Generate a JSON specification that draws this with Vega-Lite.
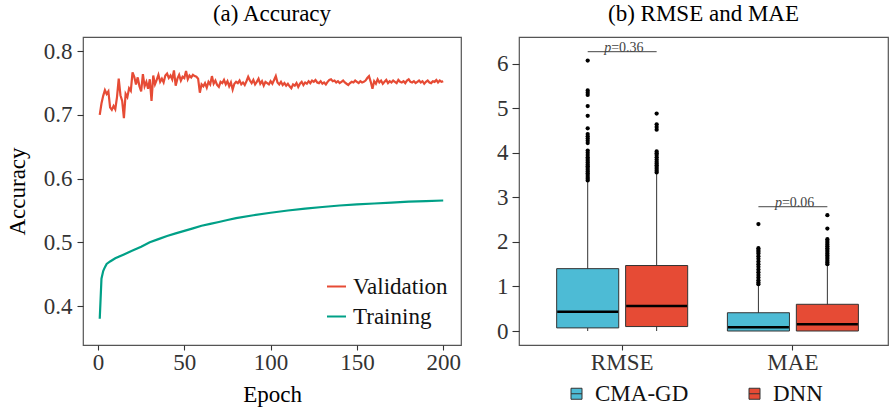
{
  "$schema": "https://vega.github.io/schema/vega-lite/v6.json",
  "padding": {"left": 5, "top": 2, "right": 0, "bottom": 0},
  "background": "white",
  "config": {
    "font": "Liberation Serif",
    "view": {"stroke": "#555555", "strokeWidth": 1.2},
    "axis": {"domain": false, "grid": false, "ticks": true, "tickColor": "#333333", "tickSize": 6, "tickWidth": 1.1,
      "labelFont": "Liberation Serif", "labelFontSize": 23, "labelColor": "#333333",
      "titleFont": "Liberation Serif", "titleFontSize": 23, "titleFontWeight": "normal", "titleColor": "#000000"},
    "legend": {"labelFont": "Liberation Serif", "labelFontSize": 23, "labelColor": "#111111", "padding": 0},
    "title": {"font": "Liberation Serif", "fontSize": 23, "fontWeight": "normal", "color": "#000000", "anchor": "middle", "baseline": "alphabetic", "offset": 11}
  },
  "datasets": {
    "boxes": [
      {"metric": "RMSE", "method": "CMA-GD", "lower": 0.0, "q1": 0.07, "median": 0.43, "q3": 1.40, "upper": 3.35},
      {"metric": "RMSE", "method": "DNN", "lower": 0.0, "q1": 0.10, "median": 0.56, "q3": 1.47, "upper": 3.54},
      {"metric": "MAE", "method": "CMA-GD", "lower": 0.0, "q1": 0.0, "median": 0.085, "q3": 0.41, "upper": 1.03},
      {"metric": "MAE", "method": "DNN", "lower": 0.0, "q1": 0.0, "median": 0.15, "q3": 0.60, "upper": 1.48}
    ],
    "outliers": [
      {"metric": "RMSE", "method": "CMA-GD", "value": 6.07},
      {"metric": "RMSE", "method": "CMA-GD", "value": 5.40},
      {"metric": "RMSE", "method": "CMA-GD", "value": 5.35},
      {"metric": "RMSE", "method": "CMA-GD", "value": 5.30},
      {"metric": "RMSE", "method": "CMA-GD", "value": 5.05},
      {"metric": "RMSE", "method": "CMA-GD", "value": 4.83},
      {"metric": "RMSE", "method": "CMA-GD", "value": 4.55},
      {"metric": "RMSE", "method": "CMA-GD", "value": 4.42},
      {"metric": "RMSE", "method": "CMA-GD", "value": 4.37},
      {"metric": "RMSE", "method": "CMA-GD", "value": 4.32},
      {"metric": "RMSE", "method": "CMA-GD", "value": 4.27},
      {"metric": "RMSE", "method": "CMA-GD", "value": 4.22},
      {"metric": "RMSE", "method": "CMA-GD", "value": 4.05},
      {"metric": "RMSE", "method": "CMA-GD", "value": 4.00},
      {"metric": "RMSE", "method": "CMA-GD", "value": 3.95},
      {"metric": "RMSE", "method": "CMA-GD", "value": 3.90},
      {"metric": "RMSE", "method": "CMA-GD", "value": 3.86},
      {"metric": "RMSE", "method": "CMA-GD", "value": 3.82},
      {"metric": "RMSE", "method": "CMA-GD", "value": 3.78},
      {"metric": "RMSE", "method": "CMA-GD", "value": 3.74},
      {"metric": "RMSE", "method": "CMA-GD", "value": 3.70},
      {"metric": "RMSE", "method": "CMA-GD", "value": 3.66},
      {"metric": "RMSE", "method": "CMA-GD", "value": 3.62},
      {"metric": "RMSE", "method": "CMA-GD", "value": 3.58},
      {"metric": "RMSE", "method": "CMA-GD", "value": 3.54},
      {"metric": "RMSE", "method": "CMA-GD", "value": 3.50},
      {"metric": "RMSE", "method": "CMA-GD", "value": 3.46},
      {"metric": "RMSE", "method": "CMA-GD", "value": 3.42},
      {"metric": "RMSE", "method": "CMA-GD", "value": 3.38},
      {"metric": "RMSE", "method": "DNN", "value": 4.88},
      {"metric": "RMSE", "method": "DNN", "value": 4.64},
      {"metric": "RMSE", "method": "DNN", "value": 4.58},
      {"metric": "RMSE", "method": "DNN", "value": 4.52},
      {"metric": "RMSE", "method": "DNN", "value": 4.03},
      {"metric": "RMSE", "method": "DNN", "value": 3.99},
      {"metric": "RMSE", "method": "DNN", "value": 3.95},
      {"metric": "RMSE", "method": "DNN", "value": 3.90},
      {"metric": "RMSE", "method": "DNN", "value": 3.85},
      {"metric": "RMSE", "method": "DNN", "value": 3.80},
      {"metric": "RMSE", "method": "DNN", "value": 3.76},
      {"metric": "RMSE", "method": "DNN", "value": 3.72},
      {"metric": "RMSE", "method": "DNN", "value": 3.68},
      {"metric": "RMSE", "method": "DNN", "value": 3.64},
      {"metric": "RMSE", "method": "DNN", "value": 3.60},
      {"metric": "RMSE", "method": "DNN", "value": 3.56},
      {"metric": "MAE", "method": "CMA-GD", "value": 2.40},
      {"metric": "MAE", "method": "CMA-GD", "value": 1.86},
      {"metric": "MAE", "method": "CMA-GD", "value": 1.82},
      {"metric": "MAE", "method": "CMA-GD", "value": 1.78},
      {"metric": "MAE", "method": "CMA-GD", "value": 1.74},
      {"metric": "MAE", "method": "CMA-GD", "value": 1.68},
      {"metric": "MAE", "method": "CMA-GD", "value": 1.62},
      {"metric": "MAE", "method": "CMA-GD", "value": 1.56},
      {"metric": "MAE", "method": "CMA-GD", "value": 1.50},
      {"metric": "MAE", "method": "CMA-GD", "value": 1.44},
      {"metric": "MAE", "method": "CMA-GD", "value": 1.38},
      {"metric": "MAE", "method": "CMA-GD", "value": 1.32},
      {"metric": "MAE", "method": "CMA-GD", "value": 1.26},
      {"metric": "MAE", "method": "CMA-GD", "value": 1.20},
      {"metric": "MAE", "method": "CMA-GD", "value": 1.14},
      {"metric": "MAE", "method": "CMA-GD", "value": 1.09},
      {"metric": "MAE", "method": "CMA-GD", "value": 1.05},
      {"metric": "MAE", "method": "DNN", "value": 2.60},
      {"metric": "MAE", "method": "DNN", "value": 2.30},
      {"metric": "MAE", "method": "DNN", "value": 2.06},
      {"metric": "MAE", "method": "DNN", "value": 2.02},
      {"metric": "MAE", "method": "DNN", "value": 1.98},
      {"metric": "MAE", "method": "DNN", "value": 1.94},
      {"metric": "MAE", "method": "DNN", "value": 1.90},
      {"metric": "MAE", "method": "DNN", "value": 1.86},
      {"metric": "MAE", "method": "DNN", "value": 1.82},
      {"metric": "MAE", "method": "DNN", "value": 1.78},
      {"metric": "MAE", "method": "DNN", "value": 1.74},
      {"metric": "MAE", "method": "DNN", "value": 1.70},
      {"metric": "MAE", "method": "DNN", "value": 1.66},
      {"metric": "MAE", "method": "DNN", "value": 1.62},
      {"metric": "MAE", "method": "DNN", "value": 1.58},
      {"metric": "MAE", "method": "DNN", "value": 1.54},
      {"metric": "MAE", "method": "DNN", "value": 1.50}
    ],
    "pline": [
      {"metric": "RMSE", "method": "CMA-GD", "y": 6.27},
      {"metric": "RMSE", "method": "DNN", "y": 6.27},
      {"metric": "MAE", "method": "CMA-GD", "y": 2.79},
      {"metric": "MAE", "method": "DNN", "y": 2.79}
    ],
    "ptext": [
      {"metric": "RMSE", "p": "p", "label": "=0.36", "y": 6.27},
      {"metric": "MAE", "p": "p", "label": "=0.06", "y": 2.79}
    ],
    "acc": [
      {"epoch": 1, "acc": 0.700, "series": "Validation"},
      {"epoch": 2, "acc": 0.718, "series": "Validation"},
      {"epoch": 3, "acc": 0.730, "series": "Validation"},
      {"epoch": 4, "acc": 0.739, "series": "Validation"},
      {"epoch": 5, "acc": 0.733, "series": "Validation"},
      {"epoch": 6, "acc": 0.737, "series": "Validation"},
      {"epoch": 7, "acc": 0.712, "series": "Validation"},
      {"epoch": 8, "acc": 0.708, "series": "Validation"},
      {"epoch": 9, "acc": 0.714, "series": "Validation"},
      {"epoch": 10, "acc": 0.709, "series": "Validation"},
      {"epoch": 11, "acc": 0.728, "series": "Validation"},
      {"epoch": 12, "acc": 0.757, "series": "Validation"},
      {"epoch": 13, "acc": 0.731, "series": "Validation"},
      {"epoch": 14, "acc": 0.722, "series": "Validation"},
      {"epoch": 15, "acc": 0.695, "series": "Validation"},
      {"epoch": 16, "acc": 0.733, "series": "Validation"},
      {"epoch": 17, "acc": 0.728, "series": "Validation"},
      {"epoch": 18, "acc": 0.742, "series": "Validation"},
      {"epoch": 19, "acc": 0.738, "series": "Validation"},
      {"epoch": 20, "acc": 0.767, "series": "Validation"},
      {"epoch": 21, "acc": 0.760, "series": "Validation"},
      {"epoch": 22, "acc": 0.748, "series": "Validation"},
      {"epoch": 23, "acc": 0.759, "series": "Validation"},
      {"epoch": 24, "acc": 0.745, "series": "Validation"},
      {"epoch": 25, "acc": 0.737, "series": "Validation"},
      {"epoch": 26, "acc": 0.764, "series": "Validation"},
      {"epoch": 27, "acc": 0.745, "series": "Validation"},
      {"epoch": 28, "acc": 0.752, "series": "Validation"},
      {"epoch": 29, "acc": 0.741, "series": "Validation"},
      {"epoch": 30, "acc": 0.756, "series": "Validation"},
      {"epoch": 31, "acc": 0.722, "series": "Validation"},
      {"epoch": 32, "acc": 0.762, "series": "Validation"},
      {"epoch": 33, "acc": 0.748, "series": "Validation"},
      {"epoch": 34, "acc": 0.755, "series": "Validation"},
      {"epoch": 35, "acc": 0.763, "series": "Validation"},
      {"epoch": 36, "acc": 0.752, "series": "Validation"},
      {"epoch": 37, "acc": 0.757, "series": "Validation"},
      {"epoch": 38, "acc": 0.751, "series": "Validation"},
      {"epoch": 39, "acc": 0.762, "series": "Validation"},
      {"epoch": 40, "acc": 0.765, "series": "Validation"},
      {"epoch": 41, "acc": 0.758, "series": "Validation"},
      {"epoch": 42, "acc": 0.762, "series": "Validation"},
      {"epoch": 43, "acc": 0.756, "series": "Validation"},
      {"epoch": 44, "acc": 0.770, "series": "Validation"},
      {"epoch": 45, "acc": 0.746, "series": "Validation"},
      {"epoch": 46, "acc": 0.757, "series": "Validation"},
      {"epoch": 47, "acc": 0.763, "series": "Validation"},
      {"epoch": 48, "acc": 0.754, "series": "Validation"},
      {"epoch": 49, "acc": 0.760, "series": "Validation"},
      {"epoch": 50, "acc": 0.758, "series": "Validation"},
      {"epoch": 51, "acc": 0.769, "series": "Validation"},
      {"epoch": 52, "acc": 0.756, "series": "Validation"},
      {"epoch": 53, "acc": 0.762, "series": "Validation"},
      {"epoch": 54, "acc": 0.759, "series": "Validation"},
      {"epoch": 55, "acc": 0.763, "series": "Validation"},
      {"epoch": 56, "acc": 0.761, "series": "Validation"},
      {"epoch": 57, "acc": 0.760, "series": "Validation"},
      {"epoch": 58, "acc": 0.757, "series": "Validation"},
      {"epoch": 59, "acc": 0.735, "series": "Validation"},
      {"epoch": 60, "acc": 0.748, "series": "Validation"},
      {"epoch": 61, "acc": 0.745, "series": "Validation"},
      {"epoch": 62, "acc": 0.750, "series": "Validation"},
      {"epoch": 63, "acc": 0.743, "series": "Validation"},
      {"epoch": 64, "acc": 0.752, "series": "Validation"},
      {"epoch": 65, "acc": 0.748, "series": "Validation"},
      {"epoch": 66, "acc": 0.761, "series": "Validation"},
      {"epoch": 67, "acc": 0.749, "series": "Validation"},
      {"epoch": 68, "acc": 0.754, "series": "Validation"},
      {"epoch": 69, "acc": 0.747, "series": "Validation"},
      {"epoch": 70, "acc": 0.744, "series": "Validation"},
      {"epoch": 71, "acc": 0.752, "series": "Validation"},
      {"epoch": 72, "acc": 0.750, "series": "Validation"},
      {"epoch": 73, "acc": 0.755, "series": "Validation"},
      {"epoch": 74, "acc": 0.748, "series": "Validation"},
      {"epoch": 75, "acc": 0.753, "series": "Validation"},
      {"epoch": 76, "acc": 0.745, "series": "Validation"},
      {"epoch": 77, "acc": 0.751, "series": "Validation"},
      {"epoch": 78, "acc": 0.740, "series": "Validation"},
      {"epoch": 79, "acc": 0.749, "series": "Validation"},
      {"epoch": 80, "acc": 0.752, "series": "Validation"},
      {"epoch": 81, "acc": 0.750, "series": "Validation"},
      {"epoch": 82, "acc": 0.754, "series": "Validation"},
      {"epoch": 83, "acc": 0.748, "series": "Validation"},
      {"epoch": 84, "acc": 0.751, "series": "Validation"},
      {"epoch": 85, "acc": 0.747, "series": "Validation"},
      {"epoch": 86, "acc": 0.753, "series": "Validation"},
      {"epoch": 87, "acc": 0.760, "series": "Validation"},
      {"epoch": 88, "acc": 0.754, "series": "Validation"},
      {"epoch": 89, "acc": 0.750, "series": "Validation"},
      {"epoch": 90, "acc": 0.755, "series": "Validation"},
      {"epoch": 91, "acc": 0.748, "series": "Validation"},
      {"epoch": 92, "acc": 0.752, "series": "Validation"},
      {"epoch": 93, "acc": 0.757, "series": "Validation"},
      {"epoch": 94, "acc": 0.749, "series": "Validation"},
      {"epoch": 95, "acc": 0.753, "series": "Validation"},
      {"epoch": 96, "acc": 0.746, "series": "Validation"},
      {"epoch": 97, "acc": 0.752, "series": "Validation"},
      {"epoch": 98, "acc": 0.750, "series": "Validation"},
      {"epoch": 99, "acc": 0.748, "series": "Validation"},
      {"epoch": 100, "acc": 0.753, "series": "Validation"},
      {"epoch": 101, "acc": 0.749, "series": "Validation"},
      {"epoch": 102, "acc": 0.755, "series": "Validation"},
      {"epoch": 103, "acc": 0.761, "series": "Validation"},
      {"epoch": 104, "acc": 0.751, "series": "Validation"},
      {"epoch": 105, "acc": 0.748, "series": "Validation"},
      {"epoch": 106, "acc": 0.752, "series": "Validation"},
      {"epoch": 107, "acc": 0.747, "series": "Validation"},
      {"epoch": 108, "acc": 0.750, "series": "Validation"},
      {"epoch": 109, "acc": 0.746, "series": "Validation"},
      {"epoch": 110, "acc": 0.749, "series": "Validation"},
      {"epoch": 111, "acc": 0.745, "series": "Validation"},
      {"epoch": 112, "acc": 0.742, "series": "Validation"},
      {"epoch": 113, "acc": 0.748, "series": "Validation"},
      {"epoch": 114, "acc": 0.746, "series": "Validation"},
      {"epoch": 115, "acc": 0.750, "series": "Validation"},
      {"epoch": 116, "acc": 0.744, "series": "Validation"},
      {"epoch": 117, "acc": 0.749, "series": "Validation"},
      {"epoch": 118, "acc": 0.752, "series": "Validation"},
      {"epoch": 119, "acc": 0.747, "series": "Validation"},
      {"epoch": 120, "acc": 0.751, "series": "Validation"},
      {"epoch": 121, "acc": 0.749, "series": "Validation"},
      {"epoch": 122, "acc": 0.753, "series": "Validation"},
      {"epoch": 123, "acc": 0.750, "series": "Validation"},
      {"epoch": 124, "acc": 0.754, "series": "Validation"},
      {"epoch": 125, "acc": 0.752, "series": "Validation"},
      {"epoch": 126, "acc": 0.755, "series": "Validation"},
      {"epoch": 127, "acc": 0.751, "series": "Validation"},
      {"epoch": 128, "acc": 0.750, "series": "Validation"},
      {"epoch": 129, "acc": 0.753, "series": "Validation"},
      {"epoch": 130, "acc": 0.749, "series": "Validation"},
      {"epoch": 131, "acc": 0.751, "series": "Validation"},
      {"epoch": 132, "acc": 0.748, "series": "Validation"},
      {"epoch": 133, "acc": 0.752, "series": "Validation"},
      {"epoch": 134, "acc": 0.755, "series": "Validation"},
      {"epoch": 135, "acc": 0.756, "series": "Validation"},
      {"epoch": 136, "acc": 0.753, "series": "Validation"},
      {"epoch": 137, "acc": 0.754, "series": "Validation"},
      {"epoch": 138, "acc": 0.751, "series": "Validation"},
      {"epoch": 139, "acc": 0.753, "series": "Validation"},
      {"epoch": 140, "acc": 0.750, "series": "Validation"},
      {"epoch": 141, "acc": 0.752, "series": "Validation"},
      {"epoch": 142, "acc": 0.754, "series": "Validation"},
      {"epoch": 143, "acc": 0.751, "series": "Validation"},
      {"epoch": 144, "acc": 0.749, "series": "Validation"},
      {"epoch": 145, "acc": 0.747, "series": "Validation"},
      {"epoch": 146, "acc": 0.750, "series": "Validation"},
      {"epoch": 147, "acc": 0.752, "series": "Validation"},
      {"epoch": 148, "acc": 0.751, "series": "Validation"},
      {"epoch": 149, "acc": 0.754, "series": "Validation"},
      {"epoch": 150, "acc": 0.752, "series": "Validation"},
      {"epoch": 151, "acc": 0.750, "series": "Validation"},
      {"epoch": 152, "acc": 0.753, "series": "Validation"},
      {"epoch": 153, "acc": 0.751, "series": "Validation"},
      {"epoch": 154, "acc": 0.752, "series": "Validation"},
      {"epoch": 155, "acc": 0.754, "series": "Validation"},
      {"epoch": 156, "acc": 0.758, "series": "Validation"},
      {"epoch": 157, "acc": 0.761, "series": "Validation"},
      {"epoch": 158, "acc": 0.752, "series": "Validation"},
      {"epoch": 159, "acc": 0.741, "series": "Validation"},
      {"epoch": 160, "acc": 0.753, "series": "Validation"},
      {"epoch": 161, "acc": 0.749, "series": "Validation"},
      {"epoch": 162, "acc": 0.756, "series": "Validation"},
      {"epoch": 163, "acc": 0.751, "series": "Validation"},
      {"epoch": 164, "acc": 0.754, "series": "Validation"},
      {"epoch": 165, "acc": 0.749, "series": "Validation"},
      {"epoch": 166, "acc": 0.752, "series": "Validation"},
      {"epoch": 167, "acc": 0.755, "series": "Validation"},
      {"epoch": 168, "acc": 0.750, "series": "Validation"},
      {"epoch": 169, "acc": 0.753, "series": "Validation"},
      {"epoch": 170, "acc": 0.751, "series": "Validation"},
      {"epoch": 171, "acc": 0.754, "series": "Validation"},
      {"epoch": 172, "acc": 0.752, "series": "Validation"},
      {"epoch": 173, "acc": 0.750, "series": "Validation"},
      {"epoch": 174, "acc": 0.755, "series": "Validation"},
      {"epoch": 175, "acc": 0.752, "series": "Validation"},
      {"epoch": 176, "acc": 0.751, "series": "Validation"},
      {"epoch": 177, "acc": 0.753, "series": "Validation"},
      {"epoch": 178, "acc": 0.750, "series": "Validation"},
      {"epoch": 179, "acc": 0.754, "series": "Validation"},
      {"epoch": 180, "acc": 0.756, "series": "Validation"},
      {"epoch": 181, "acc": 0.752, "series": "Validation"},
      {"epoch": 182, "acc": 0.751, "series": "Validation"},
      {"epoch": 183, "acc": 0.753, "series": "Validation"},
      {"epoch": 184, "acc": 0.750, "series": "Validation"},
      {"epoch": 185, "acc": 0.752, "series": "Validation"},
      {"epoch": 186, "acc": 0.754, "series": "Validation"},
      {"epoch": 187, "acc": 0.751, "series": "Validation"},
      {"epoch": 188, "acc": 0.753, "series": "Validation"},
      {"epoch": 189, "acc": 0.749, "series": "Validation"},
      {"epoch": 190, "acc": 0.752, "series": "Validation"},
      {"epoch": 191, "acc": 0.754, "series": "Validation"},
      {"epoch": 192, "acc": 0.751, "series": "Validation"},
      {"epoch": 193, "acc": 0.750, "series": "Validation"},
      {"epoch": 194, "acc": 0.753, "series": "Validation"},
      {"epoch": 195, "acc": 0.752, "series": "Validation"},
      {"epoch": 196, "acc": 0.755, "series": "Validation"},
      {"epoch": 197, "acc": 0.751, "series": "Validation"},
      {"epoch": 198, "acc": 0.754, "series": "Validation"},
      {"epoch": 199, "acc": 0.752, "series": "Validation"},
      {"epoch": 200, "acc": 0.753, "series": "Validation"},
      {"epoch": 1, "acc": 0.380, "series": "Training"},
      {"epoch": 2, "acc": 0.443, "series": "Training"},
      {"epoch": 3, "acc": 0.455, "series": "Training"},
      {"epoch": 4, "acc": 0.461, "series": "Training"},
      {"epoch": 5, "acc": 0.466, "series": "Training"},
      {"epoch": 7, "acc": 0.470, "series": "Training"},
      {"epoch": 10, "acc": 0.475, "series": "Training"},
      {"epoch": 15, "acc": 0.481, "series": "Training"},
      {"epoch": 20, "acc": 0.487, "series": "Training"},
      {"epoch": 25, "acc": 0.493, "series": "Training"},
      {"epoch": 30, "acc": 0.500, "series": "Training"},
      {"epoch": 35, "acc": 0.505, "series": "Training"},
      {"epoch": 40, "acc": 0.510, "series": "Training"},
      {"epoch": 45, "acc": 0.514, "series": "Training"},
      {"epoch": 50, "acc": 0.518, "series": "Training"},
      {"epoch": 55, "acc": 0.522, "series": "Training"},
      {"epoch": 60, "acc": 0.526, "series": "Training"},
      {"epoch": 65, "acc": 0.529, "series": "Training"},
      {"epoch": 70, "acc": 0.532, "series": "Training"},
      {"epoch": 75, "acc": 0.535, "series": "Training"},
      {"epoch": 80, "acc": 0.538, "series": "Training"},
      {"epoch": 90, "acc": 0.5425, "series": "Training"},
      {"epoch": 100, "acc": 0.5465, "series": "Training"},
      {"epoch": 110, "acc": 0.550, "series": "Training"},
      {"epoch": 120, "acc": 0.553, "series": "Training"},
      {"epoch": 130, "acc": 0.5555, "series": "Training"},
      {"epoch": 140, "acc": 0.5578, "series": "Training"},
      {"epoch": 150, "acc": 0.5595, "series": "Training"},
      {"epoch": 160, "acc": 0.561, "series": "Training"},
      {"epoch": 170, "acc": 0.5625, "series": "Training"},
      {"epoch": 180, "acc": 0.5638, "series": "Training"},
      {"epoch": 190, "acc": 0.5648, "series": "Training"},
      {"epoch": 200, "acc": 0.5657, "series": "Training"}
    ]
  },
  "hconcat": [
    {
      "width": 378,
      "height": 308,
      "title": {"text": "(a) Accuracy"},
      "data": {"name": "acc"},
      "mark": {"type": "line", "strokeWidth": 2.2, "clip": true},
      "encoding": {
        "x": {"field": "epoch", "type": "quantitative", "title": "Epoch",
          "scale": {"domain": [-8.7, 210.3], "nice": false, "zero": false},
          "axis": {"values": [0, 50, 100, 150, 200], "labelPadding": 1, "tickSize": 5, "titlePadding": 9, "labelFlush": false}},
        "y": {"field": "acc", "type": "quantitative", "title": "Accuracy",
          "scale": {"domain": [0.3388, 0.8224], "nice": false, "zero": false},
          "axis": {"values": [0.4, 0.5, 0.6, 0.7, 0.8], "format": ".1f", "labelPadding": 5, "titlePadding": 14}},
        "color": {"field": "series", "type": "nominal", "title": null,
          "scale": {"domain": ["Validation", "Training"], "range": ["#E64B35", "#00A087"]},
          "legend": {"orient": "none", "legendX": 242, "legendY": 238, "symbolType": "stroke", "symbolSize": 361,
            "symbolStrokeWidth": 2, "labelOffset": 5, "rowPadding": 6}}
      }
    },
    {
      "width": 369,
      "height": 308,
      "title": {"text": "(b) RMSE and MAE"},
      "encoding": {
        "x": {"field": "metric", "type": "nominal", "title": null, "sort": ["RMSE", "MAE"],
          "scale": {"domain": ["RMSE", "MAE"], "paddingInner": 0.2326, "paddingOuter": 0.197, "align": 0.56},
          "axis": {"labelAngle": 0, "labelPadding": 1, "tickSize": 5}}
      },
      "layer": [
        {
          "data": {"name": "boxes"},
          "mark": {"type": "rule", "color": "#333333", "strokeWidth": 1},
          "encoding": {
            "xOffset": {"field": "method", "type": "nominal",
              "scale": {"domain": ["CMA-GD", "DNN"], "paddingInner": 0.1, "paddingOuter": 0}},
            "y": {"field": "lower", "type": "quantitative", "title": null,
              "scale": {"domain": [-0.314, 6.6], "nice": false, "zero": false},
              "axis": {"values": [0, 1, 2, 3, 4, 5, 6], "labelPadding": 4, "tickSize": 7}},
            "y2": {"field": "upper"}
          }
        },
        {
          "data": {"name": "boxes"},
          "mark": {"type": "bar", "stroke": "#333333", "strokeWidth": 1},
          "encoding": {
            "xOffset": {"field": "method", "type": "nominal"},
            "y": {"field": "q1", "type": "quantitative"},
            "y2": {"field": "q3"},
            "fill": {"field": "method", "type": "nominal", "title": null,
              "scale": {"domain": ["CMA-GD", "DNN"], "range": ["#4DBBD5", "#E64B35"]},
              "legend": {"orient": "none", "direction": "horizontal", "legendX": 482, "legendY": 345,
                "symbolType": "M-1,-1H1V1H-1Z M-1,0H1", "symbolSize": 121, "symbolStrokeColor": "#333333",
                "symbolStrokeWidth": 1, "labelOffset": 7, "columnPadding": 54, "symbolOpacity": 1}}
          }
        },
        {
          "data": {"name": "boxes"},
          "mark": {"type": "tick", "color": "#000000", "thickness": 2.5, "size": 61, "opacity": 1},
          "encoding": {
            "xOffset": {"field": "method", "type": "nominal"},
            "y": {"field": "median", "type": "quantitative"}
          }
        },
        {
          "data": {"name": "outliers"},
          "mark": {"type": "circle", "color": "#000000", "size": 18, "opacity": 1},
          "encoding": {
            "xOffset": {"field": "method", "type": "nominal"},
            "y": {"field": "value", "type": "quantitative"}
          }
        },
        {
          "data": {"name": "pline"},
          "mark": {"type": "line", "color": "#444444", "strokeWidth": 1},
          "encoding": {
            "xOffset": {"field": "method", "type": "nominal"},
            "y": {"field": "y", "type": "quantitative"},
            "detail": {"field": "metric"}
          }
        },
        {
          "data": {"name": "ptext"},
          "mark": {"type": "text", "font": "Liberation Serif", "fontStyle": "italic", "fontSize": 14, "color": "#444444", "align": "right", "baseline": "alphabetic", "dx": -11, "dy": 0},
          "encoding": {
            "y": {"field": "y", "type": "quantitative"},
            "text": {"field": "p"}
          }
        },
        {
          "data": {"name": "ptext"},
          "mark": {"type": "text", "font": "Liberation Serif", "fontSize": 14, "color": "#444444", "align": "left", "baseline": "alphabetic", "dx": -11, "dy": 0},
          "encoding": {
            "y": {"field": "y", "type": "quantitative"},
            "text": {"field": "label"}
          }
        }
      ]
    }
  ],
  "spacing": 33
}
